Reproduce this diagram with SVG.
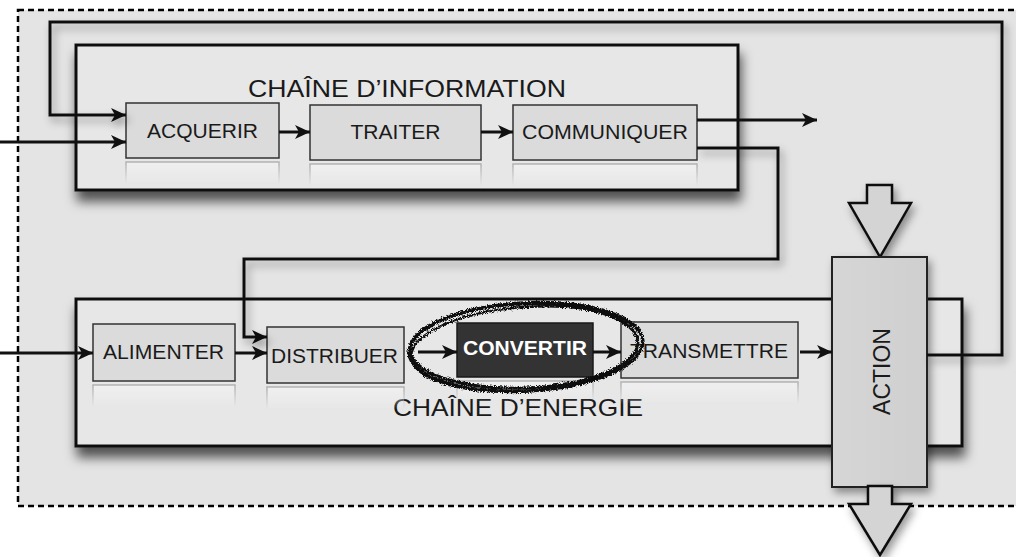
<svg xmlns="http://www.w3.org/2000/svg" width="1016" height="557" viewBox="0 0 1016 557">
<style>
.lbl{font-family:"Liberation Sans",Arial,Helvetica,sans-serif;font-size:20px;fill:#1a1a1a;text-anchor:middle}
.ttl{font-family:"Liberation Sans",Arial,Helvetica,sans-serif;font-size:24px;fill:#1a1a1a;text-anchor:middle}
.chain{fill:#e7e7e7;stroke:#111;stroke-width:3}
.box{fill:#dbdbdb;stroke:#333;stroke-width:1.5}
.conn{fill:none;stroke:#111;stroke-width:3}
.blk{fill:#d4d4d4;stroke:#111;stroke-width:2.5;stroke-linejoin:miter}
.refl{fill:url(#rf);stroke:url(#rs);stroke-width:1.5}
</style>
<defs>
<filter id="sh" x="-10%" y="-20%" width="130%" height="160%">
<feDropShadow dx="2" dy="10" stdDeviation="6" flood-color="#000" flood-opacity="0.65"/>
</filter>
<filter id="sh2" x="-20%" y="-20%" width="150%" height="150%">
<feDropShadow dx="3" dy="5" stdDeviation="4" flood-color="#000" flood-opacity="0.4"/>
</filter>
<filter id="rough" x="-10%" y="-20%" width="120%" height="140%">
<feTurbulence type="fractalNoise" baseFrequency="1.2" numOctaves="2" seed="5" result="n"/>
<feDisplacementMap in="SourceGraphic" in2="n" scale="5" xChannelSelector="R" yChannelSelector="G"/>
</filter>
<linearGradient id="rf" x1="0" y1="0" x2="0" y2="1">
<stop offset="0" stop-color="#f2f2f2" stop-opacity="0.8"/>
<stop offset="1" stop-color="#f2f2f2" stop-opacity="0"/>
</linearGradient>
<linearGradient id="rs" x1="0" y1="0" x2="0" y2="1">
<stop offset="0" stop-color="#999" stop-opacity="0.7"/>
<stop offset="1" stop-color="#999" stop-opacity="0"/>
</linearGradient>
<linearGradient id="ag" x1="0" y1="0" x2="1" y2="0">
<stop offset="0" stop-color="#d6d6d6"/>
<stop offset="1" stop-color="#cfcfcf"/>
</linearGradient>
<marker id="ah" markerUnits="userSpaceOnUse" markerWidth="16" markerHeight="14" refX="15" refY="7" orient="auto">
<path d="M0,0 L15,7 L0,14 L4,7 z" fill="#111"/>
</marker>
</defs>

<rect x="0" y="0" width="1016" height="557" fill="#fff"/>
<rect id="frame" x="18" y="10" width="1010" height="496" fill="#e4e4e4" stroke="#000" stroke-width="2.5" stroke-dasharray="6,4"/>

<g id="chaine-information">
<rect class="chain" x="76" y="45" width="662" height="145" filter="url(#sh)"/>
<text class="ttl" x="407" y="97" textLength="318" lengthAdjust="spacingAndGlyphs">CHAÎNE D’INFORMATION</text>
</g>

<g id="chaine-energie">
<rect class="chain" x="76" y="299" width="886" height="147" filter="url(#sh)"/>
<text class="ttl" x="518" y="416" textLength="250" lengthAdjust="spacingAndGlyphs">CHAÎNE D’ENERGIE</text>
</g>

<g id="acquerir">
<rect class="refl" x="126" y="162" width="153" height="22"/>
<rect class="box" x="126" y="103" width="153" height="55"/>
<text class="lbl" x="202.5" y="138" textLength="111" lengthAdjust="spacingAndGlyphs">ACQUERIR</text>
</g>
<g id="traiter">
<rect class="refl" x="310" y="164" width="171" height="22"/>
<rect class="box" x="310" y="105" width="171" height="55"/>
<text class="lbl" x="395.5" y="139" textLength="90" lengthAdjust="spacingAndGlyphs">TRAITER</text>
</g>
<g id="communiquer">
<rect class="refl" x="513" y="164" width="184" height="22"/>
<rect class="box" x="513" y="105" width="184" height="55"/>
<text class="lbl" x="605" y="139" textLength="166" lengthAdjust="spacingAndGlyphs">COMMUNIQUER</text>
</g>

<g id="alimenter">
<rect class="refl" x="93" y="385" width="142" height="22"/>
<rect class="box" x="93" y="324" width="142" height="57"/>
<text class="lbl" x="163.5" y="359" textLength="121" lengthAdjust="spacingAndGlyphs">ALIMENTER</text>
</g>
<g id="distribuer">
<rect class="refl" x="267" y="387" width="137" height="22"/>
<rect class="box" x="267" y="327" width="137" height="56"/>
<text class="lbl" x="334.5" y="363" textLength="127" lengthAdjust="spacingAndGlyphs">DISTRIBUER</text>
</g>
<g id="convertir">
<rect class="refl" x="457" y="381" width="136" height="20"/>
<rect x="457" y="323" width="136" height="54" fill="#333" stroke="#1a1a1a" stroke-width="1.5"/>
<text class="lbl" x="525" y="355" style="fill:#fff;font-weight:bold" textLength="124" lengthAdjust="spacingAndGlyphs">CONVERTIR</text>
</g>
<g id="transmettre">
<rect class="refl" x="621" y="382" width="177" height="22"/>
<rect class="box" x="621" y="322" width="177" height="56"/>
<text class="lbl" x="709" y="358" textLength="158" lengthAdjust="spacingAndGlyphs">TRANSMETTRE</text>
</g>

<g id="action">
<polygon class="blk" points="867,185 892,185 892,203 911,203 880,257 849,203 867,203" filter="url(#sh2)"/>
<rect x="832" y="257" width="95" height="230" fill="url(#ag)" stroke="#222" stroke-width="2" filter="url(#sh2)"/>
<text class="ttl" transform="translate(890,371.5) rotate(-90)" x="0" y="0" style="font-size:23px">ACTION</text>
<polygon class="blk" points="868,486 892,486 892,504 911,504 880,555 849,504 868,504" filter="url(#sh2)"/>
</g>

<g id="connectors">
<path class="conn" d="M927,355 H1002 V22 H50 V115 H126" marker-end="url(#ah)" filter="url(#sh2)"/>
<path class="conn" d="M0,142 H126" marker-end="url(#ah)"/>
<path class="conn" d="M279,132 H310" marker-end="url(#ah)"/>
<path class="conn" d="M481,132 H513" marker-end="url(#ah)"/>
<path class="conn" d="M697,120 H817" marker-end="url(#ah)"/>
<path class="conn" d="M697,148 H778 V259 H244 V337 H267" marker-end="url(#ah)" filter="url(#sh2)"/>
<path class="conn" d="M0,353 H93" marker-end="url(#ah)"/>
<path class="conn" d="M235,353 H267" marker-end="url(#ah)"/>
<path class="conn" d="M418,352 H457" marker-end="url(#ah)"/>
<path class="conn" d="M593,352 H621" marker-end="url(#ah)"/>
<path class="conn" d="M800,352 H832" marker-end="url(#ah)"/>
</g>

<g id="highlight" filter="url(#rough)" fill="none" stroke="#111">
<ellipse cx="526" cy="347" rx="117" ry="44" stroke-width="3.5" transform="rotate(-3 526 347)"/>
<ellipse cx="524" cy="346" rx="114" ry="42" stroke-width="3" transform="rotate(-2 524 346)"/>
<ellipse cx="527" cy="349" rx="116" ry="42" stroke-width="2.5" transform="rotate(-4 527 349)"/>
</g>
</svg>
